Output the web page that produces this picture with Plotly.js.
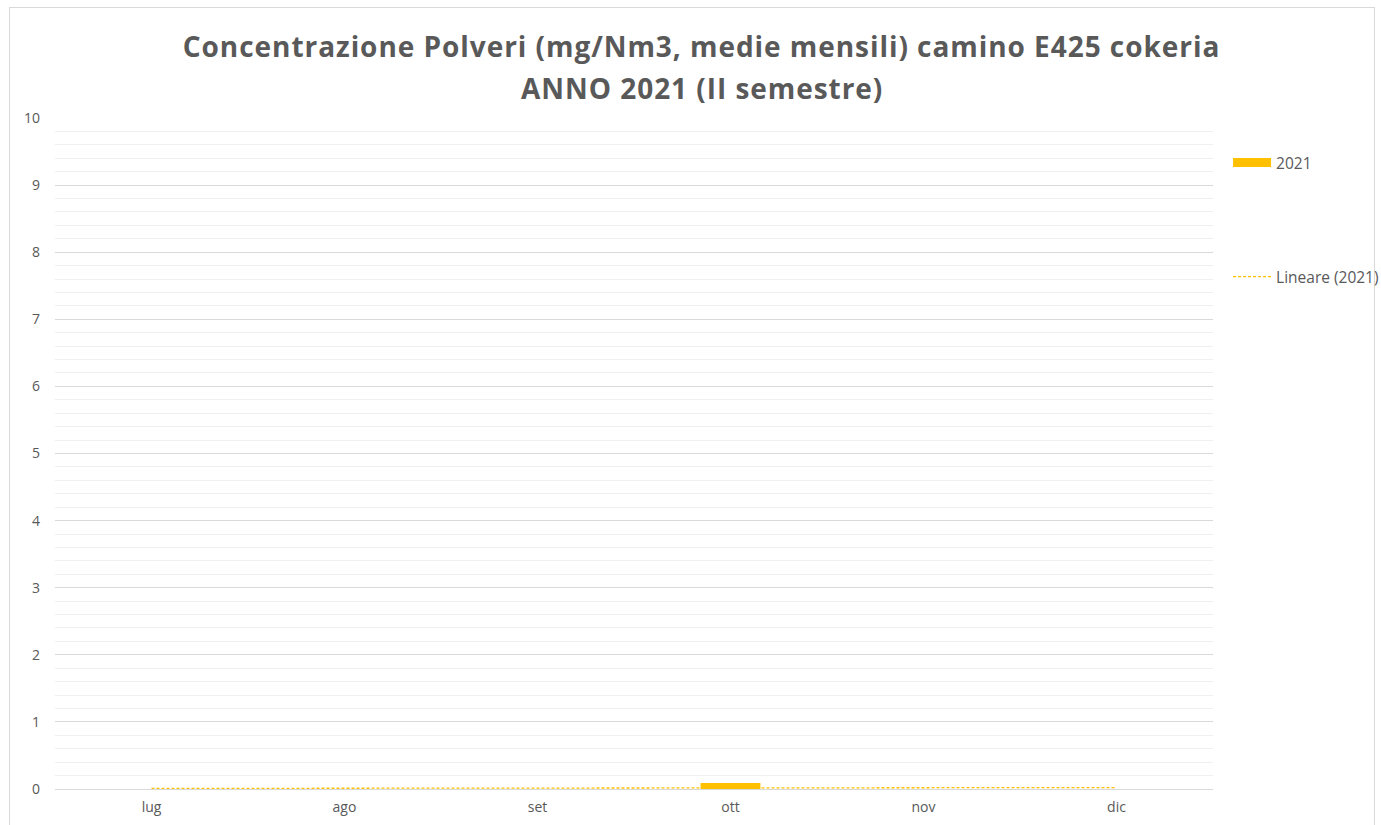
<!DOCTYPE html>
<html>
<head>
<meta charset="utf-8">
<script src="https://cdn.plot.ly/plotly-3.0.1.min.js"></script>
<style>
  html, body { margin: 0; padding: 0; background: #fff; }
  #frame { position: absolute; left: 9px; top: 7px; width: 1366px; height: 822px; border: 1px solid #d9d9d9; box-sizing: border-box; }
  #chart { position: absolute; left: 0; top: 0; width: 1381px; height: 825px; }
  #chart .gtitle, #chart .annotation-text { letter-spacing: 0.95px; }
</style>
</head>
<body>
<div id="frame"></div>
<div id="chart"></div>
<script>
// Data
const months = ["lug", "ago", "set", "ott", "nov", "dic"];
const values2021 = [0, 0, 0, 0.09, 0, 0];
const seriesName = "2021";
const trendName = "Lineare (2021)";
const yTicks = [0, 1, 2, 3, 4, 5, 6, 7, 8, 9, 10];
const titleLine1 = "Concentrazione Polveri (mg/Nm3, medie mensili) camino E425 cokeria";
const titleLine2 = "ANNO 2021 (II semestre)";

// Linear trendline (least squares over month index)
const n = values2021.length;
const xs = values2021.map((_, i) => i + 1);
const mx = xs.reduce((a, b) => a + b, 0) / n;
const my = values2021.reduce((a, b) => a + b, 0) / n;
let sxy = 0, sxx = 0;
for (let i = 0; i < n; i++) { sxy += (xs[i] - mx) * (values2021[i] - my); sxx += (xs[i] - mx) ** 2; }
const slope = sxy / sxx;
const intercept = my - slope * mx;
const trend = xs.map(x => intercept + slope * x);

const gold = "#FFC000";
const textGray = "#595959";

const traces = [
  { type: "bar", x: months, y: values2021, name: seriesName, marker: { color: gold }, width: 0.31, showlegend: false, hoverinfo: "x+y" },
  { type: "scatter", mode: "lines", x: [null], y: [null], name: seriesName, line: { color: gold, width: 9 }, legend: "legend", showlegend: true, hoverinfo: "skip" },
  { type: "scatter", mode: "lines", x: months, y: trend, name: trendName, line: { color: gold, width: 1.3, dash: "3px,2px" }, legend: "legend2", showlegend: true }
];

const layout = {
  width: 1381, height: 825,
  margin: { l: 55, r: 168, t: 118, b: 36, autoexpand: false },
  paper_bgcolor: "rgba(0,0,0,0)",
  plot_bgcolor: "rgba(0,0,0,0)",
  font: { family: "Open Sans, sans-serif", color: textGray, size: 14 },
  title: {
    text: "<b>" + titleLine1 + "</b>",
    font: { family: "Open Sans, sans-serif", size: 28, color: textGray },
    xref: "container", x: 0.508, xanchor: "center",
    yref: "container", y: 1 - 47 / 825, yanchor: "middle"
  },
  annotations: [{
    text: "<b>" + titleLine2 + "</b>",
    font: { family: "Open Sans, sans-serif", size: 28, color: textGray },
    xref: "paper", yref: "paper",
    x: (702 - 55) / 1158, xanchor: "center",
    y: (789 - 88) / 671, yanchor: "middle",
    showarrow: false
  }],
  xaxis: {
    type: "category", range: [-0.5, 5.5], showgrid: false, showline: false, zeroline: false,
    ticks: "", tickfont: { size: 14, color: textGray }, ticklabelstandoff: 8, fixedrange: true
  },
  yaxis: {
    range: [0, 10], tickvals: yTicks, ticks: "", showline: false,
    gridcolor: "#d9d9d9", gridwidth: 1, zeroline: true, zerolinecolor: "#d9d9d9", zerolinewidth: 1,
    minor: { dtick: 0.2, showgrid: true, gridcolor: "#f0f0f0", gridwidth: 1 },
    tickfont: { size: 14, color: textGray }, ticklabelstandoff: 14, fixedrange: true
  },
  legend: { x: 1.013, xanchor: "left", y: 0.933, yanchor: "middle", bgcolor: "rgba(0,0,0,0)", font: { size: 15.5, color: textGray }, itemwidth: 38 },
  legend2: { x: 1.013, xanchor: "left", y: 0.763, yanchor: "middle", bgcolor: "rgba(0,0,0,0)", font: { size: 15.5, color: textGray }, itemwidth: 38 },
  showlegend: true,
  bargap: 0.69
};

Plotly.newPlot("chart", traces, layout, { displayModeBar: false });
</script>
</body>
</html>
